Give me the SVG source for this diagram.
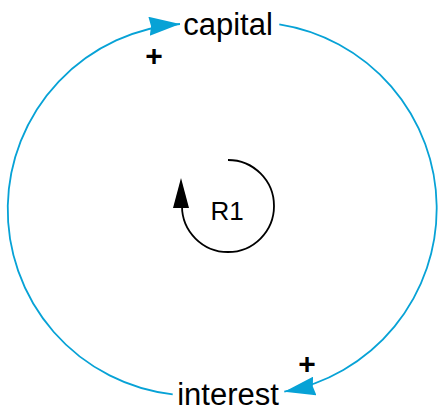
<svg xmlns="http://www.w3.org/2000/svg" width="438" height="411" viewBox="0 0 438 411">
<style>
.lbl{font-family:"Liberation Sans",Arial,sans-serif;font-size:31px;fill:#000;text-anchor:middle}
.pol{font-family:"Liberation Sans",Arial,sans-serif;font-size:30px;font-weight:bold;fill:#000;text-anchor:middle}
.link{fill:none;stroke:#07a2d6;stroke-width:1.8}
</style>
<defs>
<marker id="ah" viewBox="0 0 31 19" refX="31" refY="9.5" markerWidth="31" markerHeight="19" markerUnits="userSpaceOnUse" orient="auto">
<path d="M0,0 L31,9.5 L0,19 L2,9.5 Z" fill="#07a2d6"/>
</marker>
</defs>
<g id="connectors">
<path class="link" d="M 172.7 394.3 A 186 186 0 0 1 180 24" marker-end="url(#ah)"/>
<path class="link" d="M 279.3 24.3 A 186.4 186.4 0 0 1 284.3 391.7" marker-end="url(#ah)"/>
</g>
<g id="capital"><text class="lbl" x="228" y="35">capital</text></g>
<g id="interest"><text class="lbl" x="228" y="405">interest</text></g>
<g id="polarities">
<text class="pol" x="154" y="66">+</text>
<text class="pol" x="307" y="374">+</text>
</g>
<g id="R1">
<path d="M 228 160 A 46 46 0 1 1 182 206 L 182 204" fill="none" stroke="#000" stroke-width="1.8"/>
<path d="M 181 178 L 173 208 L 189 208 Z" fill="#000"/>
<text class="lbl" x="227" y="220" style="font-size:26px">R1</text>
</g>
</svg>
